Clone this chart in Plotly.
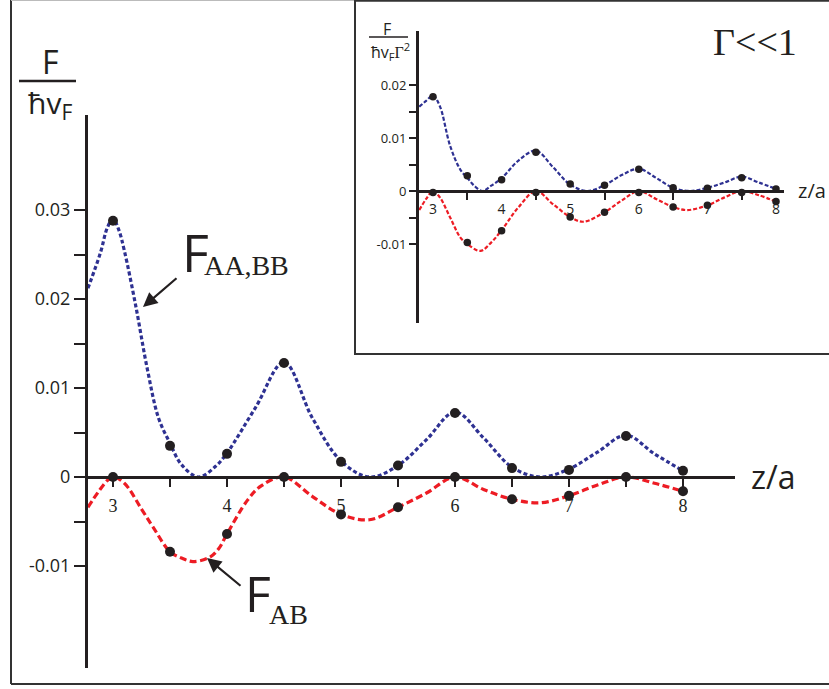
import plotly.graph_objects as go

W, H = 829, 689
INK = "#231f20"
BLUE = "#2e3192"
RED = "#ed1c24"
SANS = "Open Sans"
SERIF = "Liberation Serif"


def px(x):
    return x / W


def py(y):
    return 1 - y / H


# ---------------- data ----------------
dot_x = [3.0, 3.5, 4.0, 4.5, 5.0, 5.5, 6.0, 6.5, 7.0, 7.5, 8.0]

# main panel (Gamma general)
main_blue_dots = [0.0288, 0.0035, 0.0026, 0.0128, 0.0017, 0.0013, 0.0072, 0.0010, 0.0008, 0.0046, 0.0007]
main_red_dots = [0.0, -0.0084, -0.0064, 0.0, -0.0042, -0.0034, 0.0, -0.0025, -0.0021, 0.0, -0.0016]

main_blue_x = [2.78, 2.89, 2.95, 3.0, 3.05, 3.1, 3.2, 3.3, 3.4, 3.5, 3.6, 3.75, 3.9, 4.0, 4.25, 4.5,
               4.75, 5.0, 5.25, 5.5, 5.75, 6.0, 6.25, 6.5, 6.75, 7.0, 7.25, 7.5, 7.75, 8.0]
main_blue_y = [0.0212, 0.0252, 0.0280, 0.0290, 0.0278, 0.0254, 0.0192, 0.0122, 0.0066, 0.0038, 0.0014,
               0.0, 0.0012, 0.0027, 0.0078, 0.0129, 0.0066, 0.0018, 0.0, 0.0013, 0.0042, 0.0073,
               0.0044, 0.0011, 0.0, 0.0009, 0.0028, 0.0047, 0.0026, 0.0007]

main_red_x = [2.78, 2.87, 2.95, 3.0, 3.1, 3.25, 3.35, 3.5, 3.6, 3.7, 3.85, 3.93, 4.0, 4.18, 4.3, 4.5,
              4.75, 5.0, 5.25, 5.5, 5.75, 6.0, 6.25, 6.5, 6.75, 7.0, 7.25, 7.5, 7.75, 8.0]
main_red_y = [-0.0034, -0.0017, -0.0004, 0.0, -0.0007, -0.0036, -0.0056, -0.0084, -0.0091, -0.0095,
              -0.0090, -0.0080, -0.0064, -0.0026, -0.0010, 0.0, -0.0022, -0.0042, -0.0048, -0.0034,
              -0.0018, 0.0, -0.0014, -0.0025, -0.0029, -0.0021, -0.0009, 0.0, -0.0007, -0.0016]

# inset panel (Gamma << 1)
inset_blue_dots = [0.0178, 0.0029, 0.0021, 0.0073, 0.0013, 0.0011, 0.0041, 0.0006, 0.0005, 0.0025, 0.0004]
inset_red_dots = [-0.0003, -0.0097, -0.0075, -0.0003, -0.0049, -0.0040, -0.0003, -0.0030, -0.0027, -0.0003, -0.0020]

inset_blue_x = [2.80, 2.9, 3.0, 3.1, 3.25, 3.4, 3.5, 3.6, 3.72, 3.85, 4.0, 4.25, 4.5, 4.75, 5.0, 5.25,
                5.5, 5.75, 6.0, 6.25, 6.5, 6.75, 7.0, 7.25, 7.5, 7.75, 8.0]
inset_blue_y = [0.0159, 0.0170, 0.0180, 0.0160, 0.0085, 0.0040, 0.0025, 0.0010, 0.0, 0.0010, 0.0024,
                0.0058, 0.0076, 0.0045, 0.0012, 0.0, 0.0011, 0.0030, 0.0042, 0.0025, 0.0006, 0.0,
                0.0006, 0.0016, 0.0027, 0.0016, 0.0004]

inset_red_x = [2.80, 2.9, 3.0, 3.1, 3.25, 3.4, 3.5, 3.69, 3.85, 4.0, 4.25, 4.5, 4.75, 5.0, 5.19, 5.5,
               5.75, 6.0, 6.25, 6.5, 6.7, 7.0, 7.25, 7.5, 7.75, 8.0]
inset_red_y = [-0.0036, -0.0015, 0.0, -0.0012, -0.0050, -0.0088, -0.0100, -0.0113, -0.0097, -0.0074,
               -0.0030, 0.0, -0.0025, -0.0049, -0.0058, -0.0040, -0.0018, 0.0, -0.0015, -0.0030,
               -0.0036, -0.0027, -0.0012, 0.0, -0.0008, -0.0020]

# ticks
main_xtick_vals = [3.0, 3.5, 4.0, 4.5, 5.0, 5.5, 6.0, 6.5, 7.0, 7.5, 8.0]
main_xtick_text = ["3", "", "4", "", "5", "", "6", "", "7", "", "8"]
main_ytick_vals = [-0.01, -0.005, 0.0, 0.005, 0.01, 0.015, 0.02, 0.025, 0.03]
main_ytick_text = ["-0.01", "", "0", "", "0.01", "", "0.02", "", "0.03"]

inset_xlabel_vals = [3, 4, 5, 6, 7, 8]
inset_xlabel_text = ["3", "4", "5", "6", "7", "8"]
inset_xminor_vals = [3.5, 4.5, 5.5, 6.5, 7.5]
inset_ytick_vals = [-0.01, -0.005, 0.0, 0.005, 0.01, 0.015, 0.02]
inset_ytick_text = ["-0.01", "", "0", "", "0.01", "", "0.02"]

# ---------------- figure ----------------
fig = go.Figure()

fig.add_trace(go.Scatter(x=main_blue_x, y=main_blue_y, mode="lines",
                         line=dict(color=BLUE, width=3.2, dash="4px,2.5px", shape="spline", smoothing=1),
                         xaxis="x", yaxis="y", hoverinfo="skip"))
fig.add_trace(go.Scatter(x=main_red_x, y=main_red_y, mode="lines",
                         line=dict(color=RED, width=3.2, dash="7px,3.5px", shape="spline", smoothing=1),
                         xaxis="x", yaxis="y", hoverinfo="skip"))
fig.add_trace(go.Scatter(x=dot_x + dot_x, y=main_blue_dots + main_red_dots, mode="markers",
                         marker=dict(color=INK, size=10), xaxis="x", yaxis="y"))

fig.add_trace(go.Scatter(x=inset_blue_x, y=inset_blue_y, mode="lines",
                         line=dict(color=BLUE, width=2.2, dash="4px,2px", shape="spline", smoothing=1),
                         xaxis="x2", yaxis="y2", hoverinfo="skip"))
fig.add_trace(go.Scatter(x=inset_red_x, y=inset_red_y, mode="lines",
                         line=dict(color=RED, width=2.2, dash="4px,2px", shape="spline", smoothing=1),
                         xaxis="x2", yaxis="y2", hoverinfo="skip"))
fig.add_trace(go.Scatter(x=dot_x + dot_x, y=inset_blue_dots + inset_red_dots, mode="markers",
                         marker=dict(color=INK, size=7.5), xaxis="x2", yaxis="y2"))

main_x_range = [3 - 25 / 114, 3 + 622 / 114]
main_y_range = [-(668 - 477) / 8900, (477 - 115) / 8900]
inset_x_range = [3 - 14 / 68.6, 3 + 351 / 68.6]
inset_y_range = [-(323 - 191) / 5300, (191 - 31) / 5300]

fig.update_layout(
    width=W, height=H,
    margin=dict(l=0, r=0, t=0, b=0),
    paper_bgcolor="white", plot_bgcolor="rgba(0,0,0,0)",
    showlegend=False,
    xaxis=dict(domain=[px(88), px(735)], range=main_x_range, anchor="free", position=py(477),
               showline=True, linewidth=3, linecolor=INK, ticks="outside", ticklen=8, tickwidth=2,
               tickcolor=INK, tickvals=main_xtick_vals, ticktext=main_xtick_text,
               tickfont=dict(family=SERIF, size=18, color=INK), ticklabelstandoff=3,
               showgrid=False, zeroline=False),
    yaxis=dict(domain=[py(668), py(115)], range=main_y_range, anchor="x",
               showline=True, linewidth=3, linecolor=INK, ticks="outside", ticklen=11, tickwidth=2,
               tickcolor=INK, tickvals=main_ytick_vals, ticktext=main_ytick_text,
               tickfont=dict(family=SANS, size=18, color=INK),
               showgrid=False, zeroline=False),
    xaxis2=dict(domain=[px(419), px(784)], range=inset_x_range, anchor="free", position=py(191),
                showline=True, linewidth=3, linecolor=INK, ticks="",
                tickvals=inset_xlabel_vals, ticktext=inset_xlabel_text,
                minor=dict(ticks="outside", tickvals=inset_xminor_vals, ticklen=7, tickwidth=2, tickcolor=INK),
                tickfont=dict(family=SANS, size=14, color=INK), ticklabelstandoff=4,
                showgrid=False, zeroline=False),
    yaxis2=dict(domain=[py(323), py(31)], range=inset_y_range, anchor="x2",
                showline=True, linewidth=3, linecolor=INK, ticks="outside", ticklen=7, tickwidth=2,
                tickcolor=INK, tickvals=inset_ytick_vals, ticktext=inset_ytick_text,
                tickfont=dict(family=SANS, size=13, color=INK),
                showgrid=False, zeroline=False),
)

frame = dict(color="#333333", width=2)
shapes = [
    dict(type="line", xref="paper", yref="paper", x0=px(11), y0=py(0), x1=px(11), y1=py(684), line=frame),
    dict(type="line", xref="paper", yref="paper", x0=px(11), y0=py(684), x1=px(835), y1=py(684), line=frame),
    dict(type="line", xref="paper", yref="paper", x0=px(11), y0=py(0.5), x1=px(355), y1=py(0.5),
         line=dict(color="#bbbbbb", width=1)),
    dict(type="rect", xref="paper", yref="paper", x0=px(355), y0=py(354), x1=px(845), y1=py(0.8), line=frame),
    dict(type="line", xref="paper", yref="paper", x0=px(19), y0=py(81), x1=px(76), y1=py(81),
         line=dict(color=INK, width=2.5)),
    dict(type="line", xref="paper", yref="paper", x0=px(369), y0=py(37), x1=px(408), y1=py(37),
         line=dict(color=INK, width=1.5)),
]
fig.update_layout(shapes=shapes)


def label(text, x, y, size, family=SANS, xanchor="center"):
    return dict(text=text, x=px(x), y=py(y), xref="paper", yref="paper", showarrow=False,
                xanchor=xanchor, yanchor="middle", font=dict(family=family, size=size, color=INK))


annotations = [
    label("F", 50, 61, 32),
    label("ħv<sub>F</sub>", 50, 104, 30),
    label("F", 387, 29, 16),
    label("ħv<sub>F</sub><span style='font-family:Liberation Serif'>Γ</span><sup>2</sup>", 390, 51, 16),
    label("Γ<<1", 755, 42, 38, family=SERIF),
    label("z/a", 773, 476, 32),
    label("z/a", 828, 190, 20, xanchor="right"),
    label("F", 180, 251, 52, xanchor="left"),
    label("AA,BB", 202, 265, 28, family=SERIF, xanchor="left"),
    label("F", 243, 593, 50, xanchor="left"),
    label("AB", 267, 614, 28, family=SERIF, xanchor="left"),
    dict(text="", x=px(143), y=py(307), xref="paper", yref="paper", showarrow=True,
         ax=35, ay=-30, arrowhead=2, arrowsize=1.3, arrowwidth=2.2, arrowcolor=INK, standoff=0),
    dict(text="", x=px(207), y=py(558), xref="paper", yref="paper", showarrow=True,
         ax=35, ay=29, arrowhead=2, arrowsize=1.3, arrowwidth=2.2, arrowcolor=INK, standoff=0),
]
fig.update_layout(annotations=annotations)

fig.write_html("out.html")
